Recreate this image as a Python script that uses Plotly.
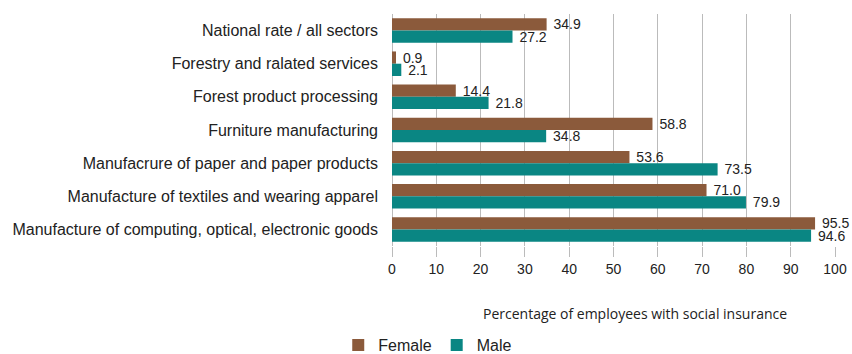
import plotly.graph_objects as go

categories = [
    "National rate / all sectors",
    "Forestry and ralated services",
    "Forest product processing",
    "Furniture manufacturing",
    "Manufacrure of paper and paper products",
    "Manufacture of textiles and wearing apparel",
    "Manufacture of computing, optical, electronic goods",
]
female = [34.9, 0.9, 14.4, 58.8, 53.6, 71.0, 95.5]
male = [27.2, 2.1, 21.8, 34.8, 73.5, 79.9, 94.6]
ticks = list(range(0, 101, 10))

fig = go.Figure()
fig.add_trace(go.Bar(
    y=categories, x=female, name="Female", orientation="h",
    marker=dict(color="#8B5A3B", line=dict(width=0)),
    text=[f" {v:.1f}" for v in female], textposition="outside",
    textfont=dict(size=14, color="#222"), cliponaxis=False, constraintext="none",
))
fig.add_trace(go.Bar(
    y=categories, x=male, name="Male", orientation="h",
    marker=dict(color="#0A8683", line=dict(width=0)),
    text=[f" {v:.1f}" for v in male], textposition="outside",
    textfont=dict(size=14, color="#222"), cliponaxis=False, constraintext="none",
))

fig.update_layout(
    width=852, height=354,
    margin=dict(l=392, r=17, t=14, b=108, autoexpand=False),
    barmode="group", bargap=0.26, bargroupgap=0,
    paper_bgcolor="white", plot_bgcolor="white",
    font=dict(family="Liberation Sans, Arial, sans-serif", size=14, color="#222"),
    showlegend=True,
    legend=dict(orientation="h", xref="container", yref="container",
                x=0.397, y=0.025, xanchor="left", yanchor="middle",
                font=dict(size=16), traceorder="normal", itemwidth=30),
    xaxis=dict(range=[0, 100], tickvals=ticks, showgrid=True, gridcolor="#BBBBBB",
               gridwidth=1, zeroline=True, zerolinecolor="#BBBBBB", zerolinewidth=1,
               tickfont=dict(size=14), ticks="outside", ticklen=10, tickcolor="#BBBBBB",
               fixedrange=True),
    yaxis=dict(autorange="reversed", tickfont=dict(size=16), ticks="",
               ticklabelstandoff=13, showgrid=False),
    annotations=[dict(
        text="Percentage of employees with social insurance",
        x=0.549, y=-0.289, xref="paper", yref="paper", xanchor="center", yanchor="middle",
        showarrow=False, font=dict(family="Open Sans, sans-serif", size=14, color="#222"),
    )],
)

fig.write_html("out.html")
